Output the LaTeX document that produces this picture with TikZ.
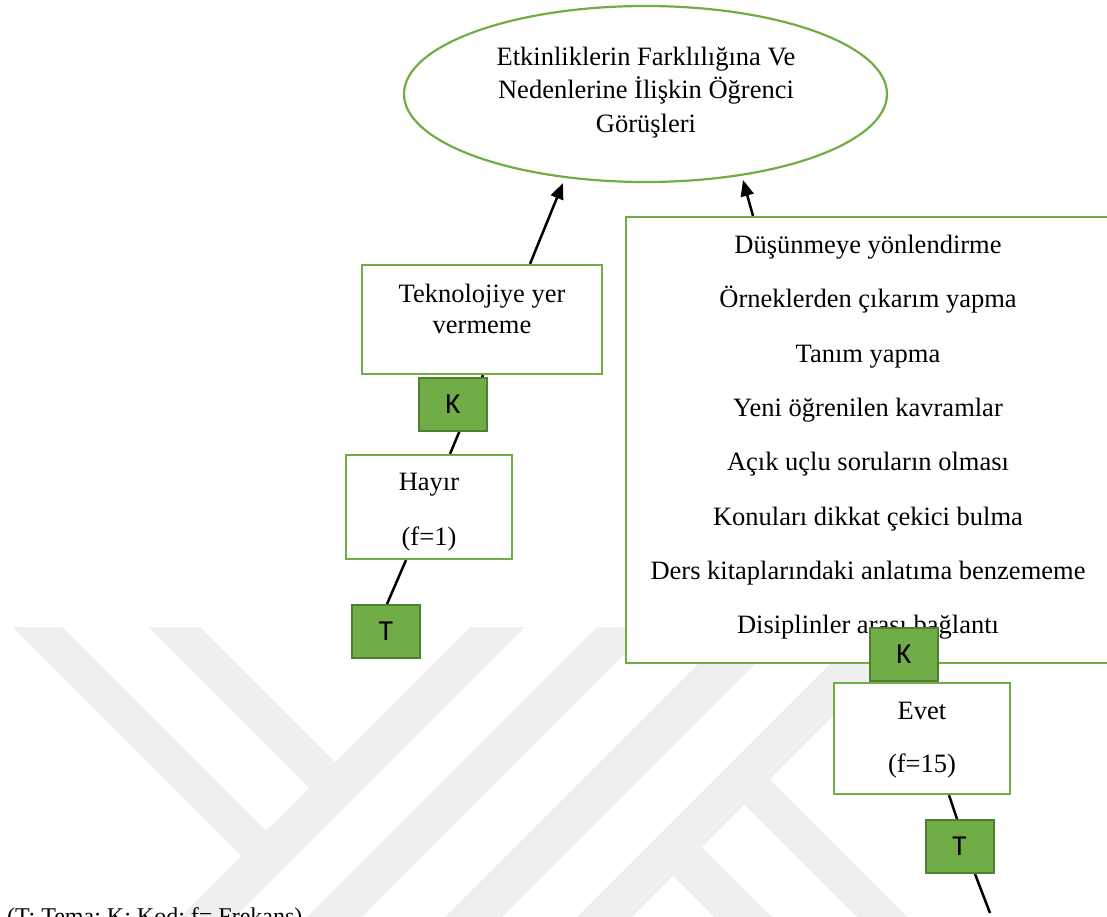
\documentclass[tikz,border=0pt]{standalone}
\usepackage{fontspec}
\setmainfont{Liberation Serif}
\newfontfamily\tagsans{Carlito}
\usetikzlibrary{arrows.meta,calc,shapes.geometric}
\definecolor{leaf}{RGB}{112,173,71}
\definecolor{leafdark}{RGB}{80,126,50}
\definecolor{wm}{RGB}{239,239,239}
\pgfdeclarelayer{back}
\pgfdeclarelayer{front}
\pgfsetlayers{back,main,front}

\begin{document}
\begin{tikzpicture}[x=1pt,y=-1pt,
  txt/.style={font=\fontsize{26.5}{31}\selectfont, inner sep=0pt, align=center, anchor=north},
  greenbox/.style={rectangle, draw=leaf, line width=2.2pt, fill=white, inner sep=0pt},
  tag/.style={rectangle, draw=leafdark, line width=2pt, fill=leaf, minimum width=68pt,
              minimum height=53pt, inner sep=0pt, font=\tagsans\fontsize{29}{32}\selectfont},
  link/.style={line width=2.5pt, draw=black},
  arrowlink/.style={link, -{Triangle[length=16pt,width=13pt]}},
  band/.style={fill=wm, draw=none}]

\useasboundingbox (0,0) rectangle (1107,917);

% faint background stripes
\begin{pgfonlayer}{back}
\begin{scope}
  \clip (0,0) rectangle (1107,917);
  \fill[band] (12.5,627) -- (62.5,627) -- (266.25,830.75) -- (241.25,855.75) -- cycle;
  \fill[band] (148,627) -- (200,627) -- (335,762) -- (309,788) -- cycle;
  \fill[band] (470,627) -- (525,627) -- (152,1000) -- (97,1000) -- cycle;
  \fill[band] (597,627) -- (652,627) -- (279,1000) -- (224,1000) -- cycle;
  \fill[band] (735,627) -- (792,627) -- (419,1000) -- (362,1000) -- cycle;
  \fill[band] (867,627) -- (922,627) -- (549,1000) -- (494,1000) -- cycle;
  \fill[band] (769.5,779.5) -- (990,1000) -- (940,1000) -- (744.5,804.5) -- cycle;
  \fill[band] (702,847) -- (855,1000) -- (797,1000) -- (673,876) -- cycle;
\end{scope}
\end{pgfonlayer}

% main theme
\node[ellipse, draw=leaf, line width=2.2pt, fill=white, minimum width=483pt,
      minimum height=176pt, inner sep=0pt] (goal) at (645.5,94) {};
\node[txt, font=\fontsize{26.5}{33.5}\selectfont] (goaltxt) at (646,46.5)
  {Etkinliklerin Farklılığına Ve\\Nedenlerine İlişkin Öğrenci\\Görüşleri};

% left branch
\node[greenbox, minimum width=240pt, minimum height=109pt] (tech) at (482,319.5) {};
\node[txt] (techtxt) at (482,284) {Teknolojiye yer\\vermeme};
\node[greenbox, minimum width=166pt, minimum height=104pt] (no) at (429,507) {};
\node[txt, font=\fontsize{26.5}{55}\selectfont] (notxt) at (429,473) {Hayır\\(f=1)};

% right branch
\node[greenbox, minimum width=484pt, minimum height=446pt] (why) at (868,440) {};
\node[txt, font=\fontsize{26.5}{54.3}\selectfont] (whytxt) at (868,235)
  {Düşünmeye yönlendirme\\Örneklerden çıkarım yapma\\Tanım yapma\\Yeni öğrenilen kavramlar\\Açık uçlu soruların olması\\Konuları dikkat çekici bulma\\Ders kitaplarındaki anlatıma benzememe\\Disiplinler arası bağlantı};
\node[greenbox, minimum width=176pt, minimum height=111pt] (yes) at (922,738.5) {};
\node[txt, font=\fontsize{26.5}{53}\selectfont] (yestxt) at (922,702) {Evet\\(f=15)};

% code and theme tags
\begin{pgfonlayer}{front}
  \node[tag] (kleft) at (453,404.5) {K};
  \node[tag] (tleft) at (386,631.5) {T};
  \node[tag] (kright) at (904,654) {K};
  \node[tag] (tright) at (959.5,846.5) {T};
\end{pgfonlayer}
\coordinate (tail) at (990,913);

% connectors
\draw[arrowlink] ([xshift=48pt]tech.north) -- ($(goal.center)+(-82.5,89)$);
\draw[arrowlink] ([xshift=-115pt]why.north) -- ($(goal.center)+(97.5,86)$);
\draw[link] ([xshift=1pt]tech.south) -- ([xshift=21pt]no.north);
\draw[link] ([xshift=-23pt]no.south) -- ([xshift=1pt]tleft.north);
\draw[link] ([xshift=44pt]why.south) -- ([xshift=-10pt]yes.north);
\draw[link] ([xshift=27pt]yes.south) -- ([xshift=-2.5pt]tright.north);
\draw[link] ([xshift=15.5pt]tright.south) -- (tail);

% legend
\node[anchor=base west, inner sep=0pt, font=\fontsize{24}{28}\selectfont] (legend) at (7,924)
  {(T: Tema; K: Kod; f= Frekans)};
\end{tikzpicture}
\end{document}
